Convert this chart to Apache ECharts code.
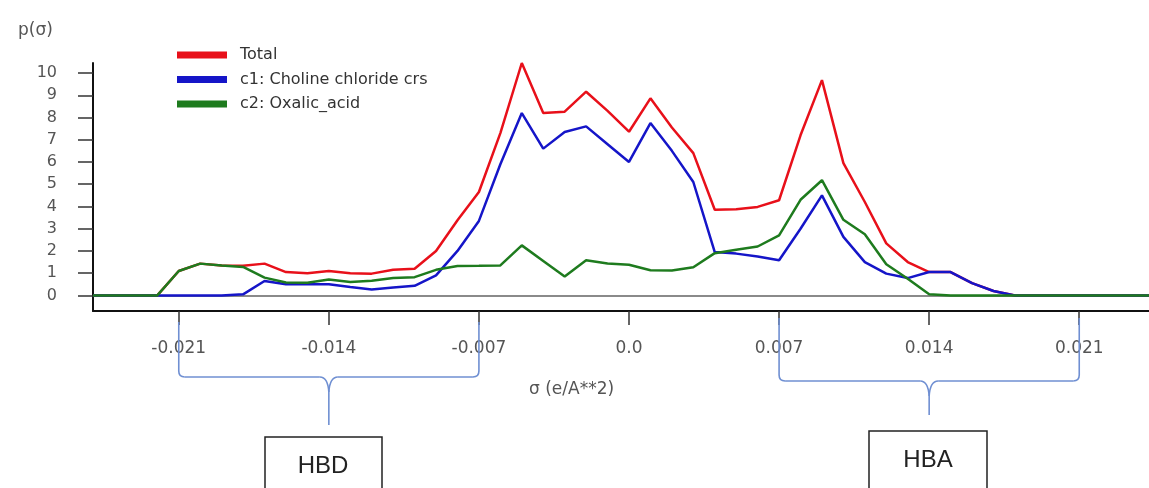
<!DOCTYPE html>
<html>
<head>
<meta charset="utf-8">
<script src="https://cdn.jsdelivr.net/npm/echarts@6/dist/echarts.min.js"></script>
<style>
html,body{margin:0;padding:0;background:#fff;}
#chart{width:1149px;height:488px;}
</style>
</head>
<body>
<div id="chart"></div>
<script>
// sigma grid (e/A**2)
const sigma = [-0.025,-0.024,-0.023,-0.022,-0.021,-0.020,-0.019,-0.018,-0.017,-0.016,
  -0.015,-0.014,-0.013,-0.012,-0.011,-0.010,-0.009,-0.008,-0.007,-0.006,
  -0.005,-0.004,-0.003,-0.002,-0.001,0.000,0.001,0.002,0.003,0.004,
  0.005,0.006,0.007,0.008,0.009,0.010,0.011,0.012,0.013,0.014,
  0.015,0.016,0.017,0.018,0.019,0.020,0.021,0.022,0.023,0.024,0.025];
// Total
const total = [0,0,0,0,1.1,1.43,1.35,1.33,1.43,1.05,
  1.0,1.1,1.0,0.98,1.15,1.2,2.0,3.38,4.65,7.3,
  10.45,8.2,8.26,9.16,8.3,7.36,8.86,7.55,6.4,3.85,
  3.87,3.98,4.28,7.2,9.68,5.95,4.2,2.34,1.5,1.05,
  1.05,0.55,0.2,0,0,0,0,0,0,0,0];
// c1: Choline chloride crs
const choline = [0,0,0,0,0,0,0,0.05,0.65,0.5,
  0.5,0.5,0.38,0.27,0.36,0.43,0.9,2.0,3.35,5.9,
  8.2,6.6,7.35,7.6,6.8,6.0,7.75,6.5,5.1,1.95,
  1.88,1.75,1.58,3.0,4.5,2.63,1.5,0.98,0.78,1.05,
  1.05,0.55,0.2,0,0,0,0,0,0,0,0];
// c2: Oxalic_acid
const oxalic = [0,0,0,0,1.1,1.43,1.35,1.28,0.8,0.58,
  0.57,0.72,0.6,0.66,0.78,0.82,1.15,1.32,1.33,1.35,
  2.25,1.55,0.85,1.58,1.44,1.38,1.13,1.12,1.27,1.9,
  2.05,2.2,2.7,4.3,5.18,3.4,2.75,1.4,0.75,0.05,
  0,0,0,0,0,0,0,0,0,0,0];
const seriesNames = ['Total','c1: Choline chloride crs','c2: Oxalic_acid'];
const xTicks = [-0.021,-0.014,-0.007,0,0.007,0.014,0.021];
const yTicks = [0,1,2,3,4,5,6,7,8,9,10];
const regionLabels = ['HBD','HBA'];

const colors = ['#e8101a','#1515c8','#1e7b1e'];
const FONT = 'DejaVu Sans';

const chart = echarts.init(document.getElementById('chart'), null, {renderer:'canvas'});

function pairs(vals){ return sigma.map((s,i)=>[s, vals[i]]); }

const option = {
  animation:false,
  backgroundColor:'#fff',
  title:[
    {text:'p(σ)', left:13, top:17, textStyle:{fontFamily:FONT,fontSize:17,fontWeight:'normal',color:'#555'}},
    {text:'σ (e/A**2)', left:524, top:376, textStyle:{fontFamily:FONT,fontSize:17,fontWeight:'normal',color:'#555'}}
  ],
  legend:{
    orient:'vertical', left:177, top:45, padding:0, itemGap:4.5,
    itemWidth:50, itemHeight:7, icon:'rect',
    data:seriesNames,
    textStyle:{fontFamily:FONT,fontSize:16,color:'#333',lineHeight:20,padding:[0,0,0,8]}
  },
  grid:{left:93, top:63, width:1072, height:248, containLabel:false, outerBoundsMode:'none'},
  xAxis:{
    type:'value', min:-0.025, max:0.025,
    axisLine:{show:true, onZero:false, lineStyle:{color:'#111', width:2}},
    axisTick:{show:true, customValues:xTicks, length:14, lineStyle:{color:'#333', width:1.5}},
    axisLabel:{customValues:xTicks, margin:29, fontFamily:FONT, fontSize:17, color:'#555',
      formatter:v => (Math.abs(v) < 1e-9 ? '0.0' : v.toFixed(3))},
    splitLine:{show:false}
  },
  yAxis:{
    type:'value', min:-0.7, max:10.45,
    axisLine:{show:true, onZero:false, lineStyle:{color:'#111', width:2}},
    axisTick:{show:true, customValues:yTicks, length:15, lineStyle:{color:'#333', width:1.5}},
    axisLabel:{customValues:yTicks, margin:36, fontFamily:FONT, fontSize:16, color:'#555'},
    splitLine:{show:false}
  },
  series:[
    {name:seriesNames[0], type:'line', data:pairs(total), showSymbol:false, symbol:'none', z:3,
      lineStyle:{color:colors[0], width:2.5}, itemStyle:{color:colors[0]},
      markLine:{silent:true, symbol:'none', z:1, label:{show:false},
        lineStyle:{color:'#8a8a8a', width:2, type:'solid'}, data:[{yAxis:0}]}},
    {name:seriesNames[1], type:'line', data:pairs(choline), showSymbol:false, symbol:'none', z:4,
      lineStyle:{color:colors[1], width:2.5}, itemStyle:{color:colors[1]}},
    {name:seriesNames[2], type:'line', data:pairs(oxalic), showSymbol:false, symbol:'none', z:5,
      lineStyle:{color:colors[2], width:2.5}, itemStyle:{color:colors[2]}}
  ]
};
chart.setOption(option);

// Annotations: curly braces under the axis and labelled boxes
function px(v){ return chart.convertToPixel({xAxisIndex:0}, v); }
const braceStyle = {stroke:'#6f8fd2', lineWidth:1.6, fill:null};
function brace(x1, x2, yTop, yBar, yTip){
  const xm = (x1 + x2) / 2;
  const els = [];
  [[x1, 1], [x2, -1]].forEach(([xe, d]) => {
    els.push({type:'polyline', shape:{points:[[xe, yTop],[xe, yBar-6]]}, style:braceStyle, z:10});
    els.push({type:'bezierCurve', shape:{x1:xe, y1:yBar-6, cpx1:xe, cpy1:yBar, x2:xe+6*d, y2:yBar}, style:braceStyle, z:10});
    els.push({type:'polyline', shape:{points:[[xe+6*d, yBar],[xm-9*d, yBar]]}, style:braceStyle, z:10});
    els.push({type:'bezierCurve', shape:{x1:xm-9*d, y1:yBar, cpx1:xm-1*d, cpy1:yBar, x2:xm, y2:yBar+15}, style:braceStyle, z:10});
  });
  els.push({type:'polyline', shape:{points:[[xm, yBar+15],[xm, yTip]]}, style:braceStyle, z:10});
  return els;
}
const graphics = []
  .concat(brace(px(xTicks[0]), px(xTicks[2]), 322, 377, 425))
  .concat(brace(px(xTicks[4]), px(xTicks[6]), 318, 381, 415))
  .concat([
    {type:'rect', shape:{x:265, y:437, width:117, height:70}, style:{stroke:'#222', lineWidth:1.5, fill:'#fff'}, z:10},
    {type:'rect', shape:{x:869, y:431, width:118, height:80}, style:{stroke:'#222', lineWidth:1.5, fill:'#fff'}, z:10},
    {type:'text', x:323, y:466, style:{text:regionLabels[0], font:'24px "Liberation Sans"', fill:'#222', textAlign:'center', textVerticalAlign:'middle'}, z:11},
    {type:'text', x:928, y:460, style:{text:regionLabels[1], font:'24px "Liberation Sans"', fill:'#222', textAlign:'center', textVerticalAlign:'middle'}, z:11}
  ]);
chart.setOption({graphic:graphics});
</script>
</body>
</html>
